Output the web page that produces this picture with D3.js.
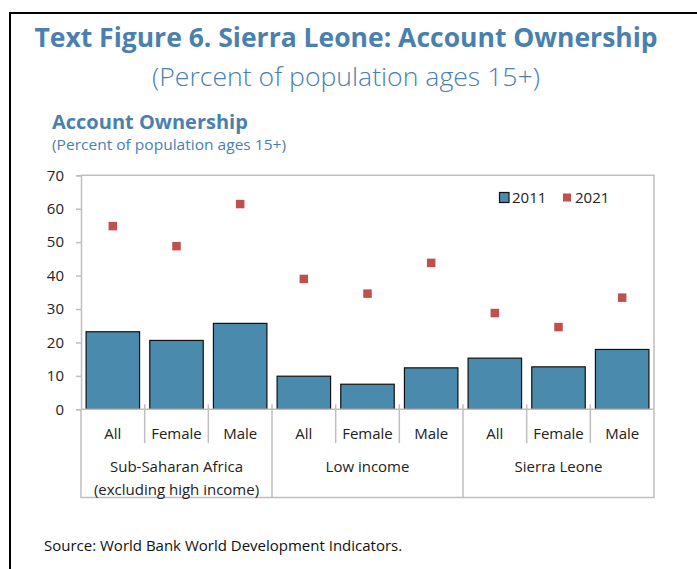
<!DOCTYPE html>
<html>
<head>
<meta charset="utf-8">
<script src="https://cdn.jsdelivr.net/npm/d3@7"></script>
<style>
  html, body { margin: 0; padding: 0; background: #fff; }
  svg { display: block; font-family: "Open Sans", "Noto Sans", sans-serif; }
</style>
</head>
<body>
<svg id="chart" width="697" height="569"></svg>
<script>
// Account ownership, percent of population ages 15+
const groups = [["Sub-Saharan Africa", "(excluding high income)"], ["Low income"], ["Sierra Leone"]];
const subcategories = ["All", "Female", "Male"];
const values2011 = [23.2, 20.6, 25.7, 9.9, 7.5, 12.4, 15.3, 12.7, 17.9];
const values2021 = [54.8, 48.8, 61.4, 39.0, 34.6, 43.8, 28.8, 24.6, 33.4];
const yTicks = [0, 10, 20, 30, 40, 50, 60, 70];
const seriesNames = ["2011", "2021"];

const blue = "#4a8aad";
const red = "#c0504d";
const titleBlue = "#4a80b0";
const gridGray = "#bfbfbf";

const svg = d3.select("#chart");

// outer frame
svg.append("rect")
  .attr("x", 10).attr("y", 13).attr("width", 760).attr("height", 620)
  .attr("fill", "none").attr("stroke", "#000").attr("stroke-width", 2);

// headings
svg.append("text").attr("x", 346).attr("y", 47).attr("text-anchor", "middle")
  .attr("font-size", 26.5).attr("font-weight", 700).attr("fill", titleBlue)
  .text("Text Figure 6. Sierra Leone: Account Ownership");
svg.append("text").attr("x", 346).attr("y", 86).attr("text-anchor", "middle")
  .attr("font-size", 25).attr("font-weight", 300).attr("fill", titleBlue)
  .attr("textLength", 388).attr("lengthAdjust", "spacingAndGlyphs")
  .text("(Percent of population ages 15+)");
svg.append("text").attr("x", 52).attr("y", 129)
  .attr("font-size", 20).attr("font-weight", 700).attr("fill", titleBlue)
  .text("Account Ownership");
svg.append("text").attr("x", 52).attr("y", 150)
  .attr("font-size", 14).attr("fill", titleBlue)
  .attr("textLength", 234).attr("lengthAdjust", "spacingAndGlyphs")
  .text("(Percent of population ages 15+)");

// plot geometry
const plotLeft = 81, plotRight = 654, plotTop = 175.3, plotBottom = 409.3, labelBottom = 497.5;

const idx = d3.range(values2011.length);
const x = d3.scaleBand().domain(idx).range([plotLeft, plotRight]).paddingInner(0.16).paddingOuter(0.08);
const y = d3.scaleLinear().domain([0, 70]).range([plotBottom, plotTop]);
const step = x.step();

// plot border (top and right)
svg.append("path")
  .attr("d", `M${plotLeft},${plotTop}H${plotRight}V${plotBottom}`)
  .attr("fill", "none").attr("stroke", gridGray).attr("stroke-width", 1.5);

// y axis
const yAxis = svg.append("g").attr("transform", `translate(${plotLeft},0)`)
  .call(d3.axisLeft(y).tickValues(yTicks).tickSize(5).tickPadding(12).tickFormat(d3.format("d")));
yAxis.select(".domain").attr("stroke", gridGray).attr("stroke-width", 1.5);
yAxis.selectAll(".tick line").attr("stroke", gridGray).attr("stroke-width", 1.5);
yAxis.selectAll(".tick text").attr("font-size", 15).attr("fill", "#222")
  .attr("font-family", "'Open Sans', sans-serif");

// bars (2011)
svg.append("g").selectAll("rect").data(idx).join("rect")
  .attr("x", i => x(i)).attr("width", x.bandwidth())
  .attr("y", i => y(values2011[i])).attr("height", i => y(0) - y(values2011[i]))
  .attr("fill", blue).attr("stroke", "#111").attr("stroke-width", 1.2);

// markers (2021)
const ms = 8.5;
svg.append("g").selectAll("rect").data(idx).join("rect")
  .attr("x", i => x(i) + x.bandwidth() / 2 - ms / 2)
  .attr("y", i => y(values2021[i]) - ms / 2)
  .attr("width", ms).attr("height", ms).attr("fill", red);

// category axis box
svg.append("path")
  .attr("d", `M${plotLeft},${plotBottom}H${plotRight}M${plotLeft},${plotBottom}V${labelBottom}H${plotRight}V${plotBottom}`)
  .attr("fill", "none").attr("stroke", gridGray).attr("stroke-width", 1.5);

// separators between categories
const sep = svg.append("g").attr("stroke", gridGray).attr("stroke-width", 1.5);
d3.range(1, values2011.length).forEach(k => {
  const xx = plotLeft + k * step;
  const isGroup = k % subcategories.length === 0;
  sep.append("line").attr("x1", xx).attr("x2", xx)
    .attr("y1", plotBottom - 5).attr("y2", isGroup ? labelBottom : 443);
});

// subcategory labels
svg.append("g").selectAll("text").data(idx).join("text")
  .attr("x", i => x(i) + x.bandwidth() / 2).attr("y", 439)
  .attr("text-anchor", "middle").attr("font-size", 15).attr("fill", "#222")
  .text(i => subcategories[i % subcategories.length]);

// group labels
groups.forEach((lines, g) => {
  const cx = plotLeft + (g * 3 + 1.5) * step;
  lines.forEach((line, j) => {
    svg.append("text").attr("x", cx).attr("y", 472 + j * 23)
      .attr("text-anchor", "middle").attr("font-size", 15).attr("fill", "#222")
      .text(line);
  });
});

// legend
const lg = svg.append("g");
lg.append("rect").attr("x", 499.5).attr("y", 192.5).attr("width", 9.5).attr("height", 10)
  .attr("fill", blue).attr("stroke", "#111").attr("stroke-width", 1.2);
lg.append("text").attr("x", 512).attr("y", 203).attr("font-size", 15).attr("fill", "#222").text(seriesNames[0]);
lg.append("rect").attr("x", 563).attr("y", 193.5).attr("width", 8).attr("height", 8).attr("fill", red);
lg.append("text").attr("x", 575).attr("y", 203).attr("font-size", 15).attr("fill", "#222").text(seriesNames[1]);

// source note
svg.append("text").attr("x", 44).attr("y", 551).attr("font-size", 15).attr("fill", "#111")
  .text("Source: World Bank World Development Indicators.");
</script>
</body>
</html>
